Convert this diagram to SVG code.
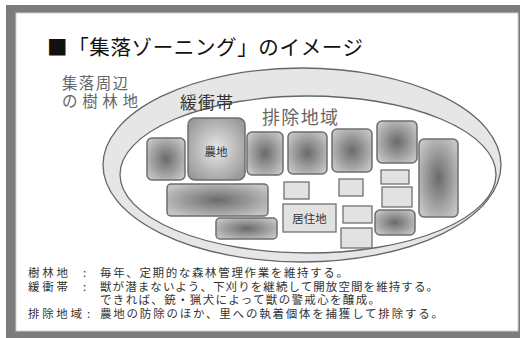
<svg xmlns="http://www.w3.org/2000/svg" width="520" height="338" viewBox="0 0 520 338">
<defs>
<radialGradient id="g" cx="50%" cy="50%" r="60%">
<stop offset="0" stop-color="#6a6a6a"/>
<stop offset="1" stop-color="#c4c4c4"/>
</radialGradient>
<radialGradient id="gl" cx="50%" cy="50%" r="60%">
<stop offset="0" stop-color="#e8e8e8"/>
<stop offset="1" stop-color="#9a9a9a"/>
</radialGradient>
<style>
text{font-family:"Noto Sans CJK JP","Noto Sans CJK SC",sans-serif;}
.d{fill:url(#g);stroke:#6e6e6e;stroke-width:1.5;}
.l{fill:#e2e2e2;stroke:#707070;stroke-width:1.3;}
.t{fill:#333;font-size:11.5px;}
.g{fill:#666;}
</style>
</defs>
<rect x="6" y="5" width="514" height="333" fill="#7c7c7c"/>
<rect x="16" y="13" width="502" height="318" fill="#fff" stroke="#d0d0d0" stroke-width="1"/>
<text x="47" y="55" font-size="20.5" fill="#111" textLength="316">■「集落ゾーニング」のイメージ</text>
<g id="zones">
<ellipse cx="302" cy="165" rx="199" ry="97" fill="#e6e6e6" stroke="#666" stroke-width="1.3"/>
<ellipse cx="308" cy="174.5" rx="188" ry="78.5" fill="#fff" stroke="#666" stroke-width="1.3"/>
</g>
<text x="62" y="89" font-size="15.5" class="g" textLength="66">集落周辺</text>
<text x="62" y="107" font-size="15.5" class="g" textLength="76">の樹林地</text>
<text x="180" y="109" font-size="17" fill="#333" textLength="53">緩衝帯</text>
<text x="262" y="124" font-size="18" class="g" textLength="76">排除地域</text>
<g id="n1"><rect class="d" x="147" y="138" width="38" height="42" rx="5"/></g>
<g id="n2"><rect x="188" y="118" width="57" height="62" rx="7" fill="url(#gl)" stroke="#6e6e6e" stroke-width="1.5"/><text x="216" y="156" font-size="11.5" fill="#333" text-anchor="middle">農地</text></g>
<g id="n3"><rect class="d" x="247" y="132" width="36" height="43" rx="5"/></g>
<g id="n4"><rect class="d" x="288" y="132" width="39" height="42" rx="5"/></g>
<g id="n5"><rect class="d" x="332" y="129" width="40" height="43" rx="5"/></g>
<g id="n6"><rect class="d" x="377" y="121" width="40" height="42" rx="5"/></g>
<g id="n7"><rect class="d" x="419" y="139" width="39" height="78" rx="5"/></g>
<g id="n8"><rect class="d" x="167" y="184" width="101" height="32" rx="4"/></g>
<g id="n9"><rect class="d" x="216" y="218" width="61" height="21" rx="4"/></g>
<g id="n10"><rect class="d" x="375" y="210" width="40" height="25" rx="5"/></g>
<g id="n11"><rect class="l" x="284" y="182" width="25" height="17"/></g>
<g id="n12"><rect class="l" x="339" y="179" width="24" height="17"/></g>
<g id="n13"><rect class="l" x="381" y="170" width="28" height="14"/></g>
<g id="n14"><rect class="l" x="382" y="187" width="30" height="20"/></g>
<g id="n15"><rect class="l" x="343" y="206" width="29" height="17"/></g>
<g id="n16"><rect class="l" x="341" y="228" width="31" height="20"/></g>
<g id="n17"><rect class="l" x="283" y="204" width="53" height="28"/><text x="309.5" y="223" font-size="11.5" fill="#333" text-anchor="middle">居住地</text></g>
<g id="legend">
<text class="t" x="28" y="277" textLength="40">樹林地</text><text class="t" x="83" y="277">:</text>
<text class="t" x="100" y="277" textLength="248">毎年、定期的な森林管理作業を維持する。</text>
<text class="t" x="28" y="291" textLength="40">緩衝帯</text><text class="t" x="83" y="291">:</text>
<text class="t" x="100" y="291" textLength="338">獣が潜まないよう、下刈りを継続して開放空間を維持する。</text>
<text class="t" x="100" y="304" textLength="280">できれば、銃・猟犬によって獣の警戒心を醸成。</text>
<text class="t" x="28" y="318" textLength="54">排除地域</text><text class="t" x="87" y="318">:</text>
<text class="t" x="100" y="318" textLength="343">農地の防除のほか、里への執着個体を捕獲して排除する。</text>
</g>
</svg>
